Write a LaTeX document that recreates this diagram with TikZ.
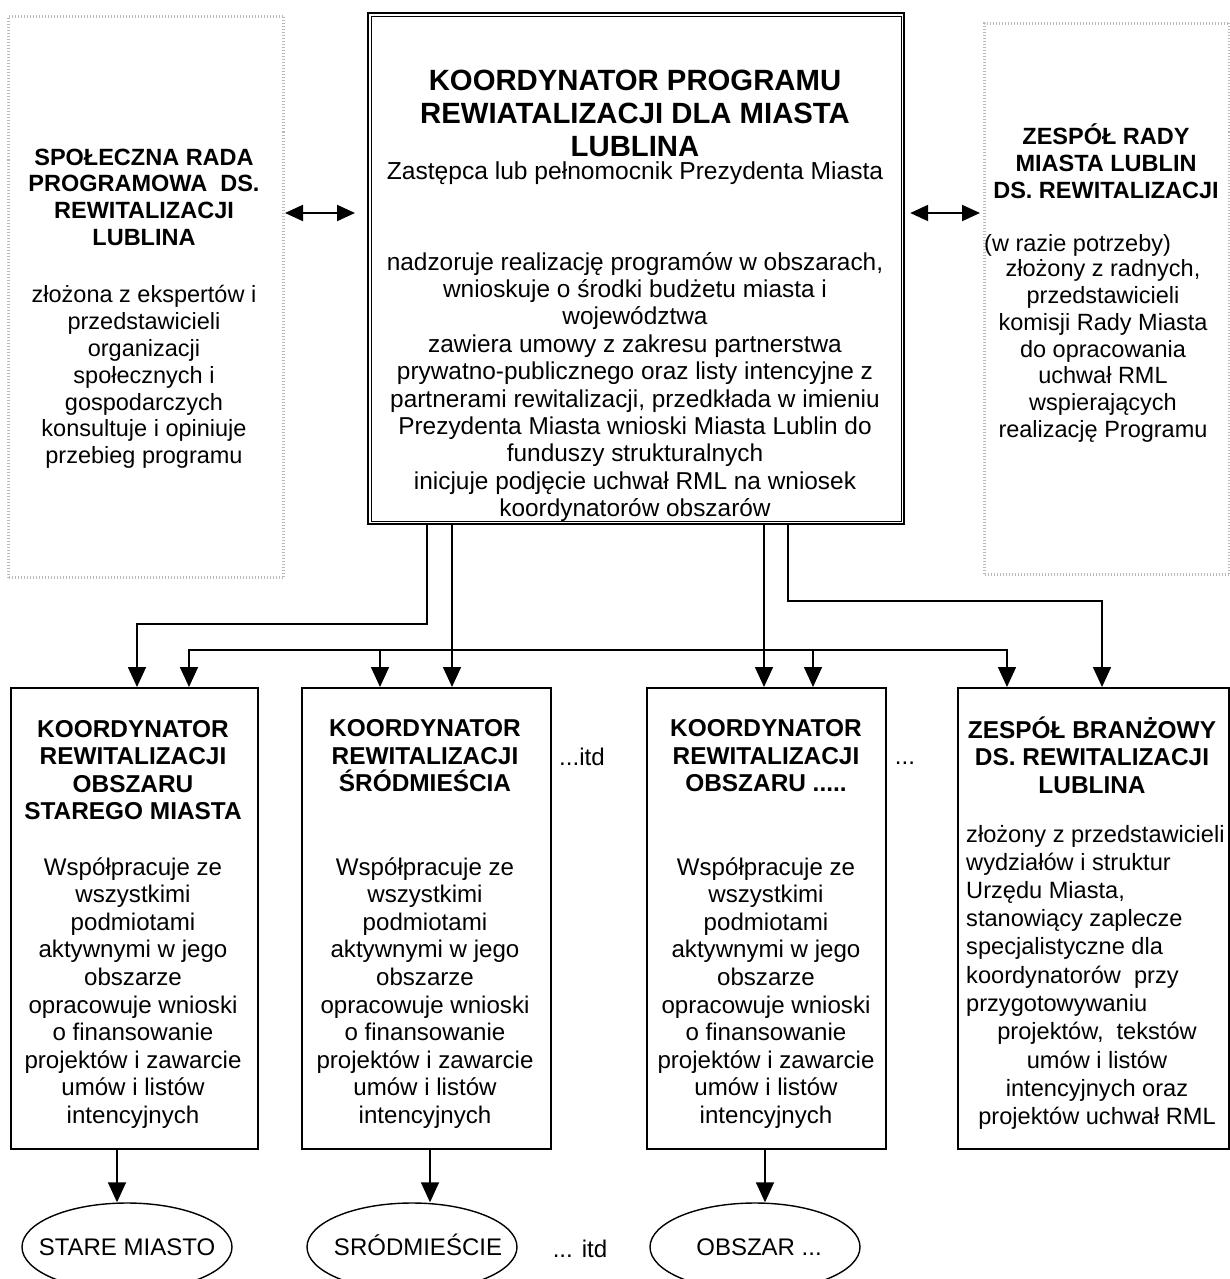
\documentclass[tikz,border=0pt]{standalone}
\usepackage{fontspec}
\setmainfont{Liberation Sans}
\usetikzlibrary{arrows.meta,shapes.geometric,calc}
\tikzset{
  hd/.style={font=\bfseries\fontsize{24.4}{27.5}\selectfont, align=center, inner sep=0pt},
  bd/.style={font=\fontsize{24.1}{27.6}\selectfont, align=center, inner sep=0pt},
  bx/.style={draw, line width=1.6pt, anchor=north west, inner sep=0pt},
  sbox/.style={draw=gray!55, line width=3pt, dash pattern=on 1pt off 2pt, anchor=north west, inner sep=0pt},
  arr/.style={line width=1.6pt, -{Triangle[length=20pt,width=18pt]}},
  dbl/.style={line width=2pt, {Triangle[length=18pt,width=16pt]}-{Triangle[length=18pt,width=16pt]}},
  ln/.style={line width=1.6pt},
  ell/.style={draw, ellipse, line width=1.4pt, minimum width=210pt, minimum height=88pt, inner sep=0pt, text height=17pt, text depth=0pt, font=\fontsize{24}{27.6}\selectfont},
}
\begin{document}
\begin{tikzpicture}[x=1pt,y=-1pt]
\useasboundingbox (0,0) rectangle (1230,1279);
\clip (0,0) rectangle (1230,1279);
% side boxes
\node[sbox, minimum width=275pt, minimum height=561pt] (lb) at (7,15) {};
\node[sbox, minimum width=245pt, minimum height=551pt] (rb) at (983,22) {};
% central box
\node[bx, line width=2.2pt, minimum width=536pt, minimum height=511pt] (cb) at (367,12) {};
\draw[line width=0.9pt] ([shift={(4pt,-4pt)}]cb.north west) rectangle ([shift={(-4pt,4pt)}]cb.south east);
% lower boxes
\node[bx, minimum width=247pt, minimum height=461pt] (b1) at (10,687) {};
\node[bx, minimum width=249pt, minimum height=461pt] (b2) at (301,687) {};
\node[bx, minimum width=239pt, minimum height=461pt] (b3) at (646,687) {};
\node[bx, minimum width=271pt, minimum height=461pt] (b4) at (957,687) {};
% ellipses
\node[ell] (e1) at (127,1247) {\makebox[0pt]{STARE MIASTO}};
\node[ell] (e2) at (412,1247) {\makebox[0pt]{\hspace*{12pt}SRÓDMIEŚCIE}};
\node[ell] (e3) at (755,1247) {\makebox[0pt]{\hspace*{8pt}OBSZAR ...}};
% central text
\node[hd, font=\bfseries\fontsize{29.3}{33}\selectfont] (ct) at (635,113) {KOORDYNATOR PROGRAMU\\REWIATALIZACJI DLA MIASTA\\LUBLINA};
\node[bd, font=\fontsize{24.6}{27.4}\selectfont] (cs) at (635,173) {Zastępca lub pełnomocnik Prezydenta Miasta};
\node[bd, font=\fontsize{24.4}{27.4}\selectfont] (cbd) at (635,387) {nadzoruje realizację programów w obszarach,\\wnioskuje o środki budżetu miasta i\\województwa\\zawiera umowy z zakresu partnerstwa\\prywatno-publicznego oraz listy intencyjne z\\partnerami rewitalizacji, przedkłada w imieniu\\Prezydenta Miasta wnioski Miasta Lublin do\\funduszy strukturalnych\\inicjuje podjęcie uchwał RML na wniosek\\koordynatorów obszarów};
% left side text
\node[hd, font=\bfseries\fontsize{23.5}{26.7}\selectfont] (lh) at (144,197) {SPOŁECZNA RADA\\PROGRAMOWA\ \ DS.\\REWITALIZACJI\\LUBLINA};
\node[bd, font=\fontsize{23.5}{26.8}\selectfont] (lbd) at (144,377) {złożona z ekspertów i\\przedstawicieli\\organizacji\\społecznych i\\gospodarczych\\konsultuje i opiniuje\\przebieg programu};
% right side text
\node[hd, font=\bfseries\fontsize{23.5}{26.8}\selectfont] (rh) at (1106,161) {ZESPÓŁ RADY\\MIASTA LUBLIN\\DS. REWITALIZACJI};
\node[bd, anchor=west, font=\fontsize{23.5}{26.8}\selectfont] (rp) at (984,245) {(w razie potrzeby)};
\node[bd, font=\fontsize{23.5}{26.7}\selectfont] (rbd) at (1103,351) {złożony z radnych,\\przedstawicieli\\komisji Rady Miasta\\do opracowania\\uchwał RML\\wspierających\\realizację Programu};
% lower box texts
\node[hd] (h1) at (133,770) {KOORDYNATOR\\REWITALIZACJI\\OBSZARU\\STAREGO MIASTA};
\node[hd] (h2) at (425,756) {KOORDYNATOR\\REWITALIZACJI\\ŚRÓDMIEŚCIA};
\node[hd] (h3) at (766,756) {KOORDYNATOR\\REWITALIZACJI\\OBSZARU .....};
\node[hd] (h4) at (1092,755) {ZESPÓŁ BRANŻOWY\\DS. REWITALIZACJI\\LUBLINA};
\node[bd] (d1) at (133,993) {Współpracuje ze\\wszystkimi\\podmiotami\\aktywnymi w jego\\obszarze\\opracowuje wnioski\\o finansowanie\\projektów i zawarcie\\umów i listów\\intencyjnych};
\node[bd] (d2) at (425,993) {Współpracuje ze\\wszystkimi\\podmiotami\\aktywnymi w jego\\obszarze\\opracowuje wnioski\\o finansowanie\\projektów i zawarcie\\umów i listów\\intencyjnych};
\node[bd] (d3) at (766,993) {Współpracuje ze\\wszystkimi\\podmiotami\\aktywnymi w jego\\obszarze\\opracowuje wnioski\\o finansowanie\\projektów i zawarcie\\umów i listów\\intencyjnych};
\node[bd, align=left, anchor=west, font=\fontsize{23.6}{28.2}\selectfont] (d4a) at (966,920.5) {złożony z przedstawicieli\\wydziałów i struktur\\Urzędu Miasta,\\stanowiący zaplecze\\specjalistyczne dla\\koordynatorów\ \ przy\\przygotowywaniu};
\node[bd, font=\fontsize{23.6}{28.2}\selectfont] (d4b) at (1097,1076) {projektów,\ \ tekstów\\umów i listów\\intencyjnych oraz\\projektów uchwał RML};
% dots labels
\node[bd] (itd1) at (582,757) {...itd};
\node[bd] (dots1) at (905,763) {...};
\node[bd] (itd2) at (580,1249) {... itd};
% double arrows
\coordinate (ay) at (0,213);
\draw[dbl] (lb.east |- ay) -- ([xshift=-12pt]cb.west |- ay);
\draw[dbl] ([xshift=5pt]cb.east |- ay) -- ([xshift=-3pt]rb.west |- ay);
% connectors from central box
\draw[arr] (427,0 |- cb.south) |- (137,624) -- (137,0 |- b1.north);
\draw[arr] (452,0 |- cb.south) -- (452,0 |- b2.north);
\draw[arr] (764,0 |- cb.south) -- (764,0 |- b3.north);
\draw[arr] (788,0 |- cb.south) |- (1102,601) -- (1102,0 |- b4.north);
% bus line
\coordinate (bus2) at (380,650);
\coordinate (bus3) at (813,650);
\draw[ln] (bus2) -- (bus3);
\draw[arr] (bus2) -| (189,0 |- b1.north);
\draw[arr] (bus2) -- (bus2 |- b2.north);
\draw[arr] (bus3) -- (bus3 |- b3.north);
\draw[arr] (bus3) -| (1007,0 |- b4.north);
% arrows to ellipses
\draw[arr] (117,0 |- b1.south) -- (117,0 |- e1.north);
\draw[arr] (430,0 |- b2.south) -- (430,0 |- e2.north);
\draw[arr] (765,0 |- b3.south) -- (765,0 |- e3.north);
\end{tikzpicture}
\end{document}
